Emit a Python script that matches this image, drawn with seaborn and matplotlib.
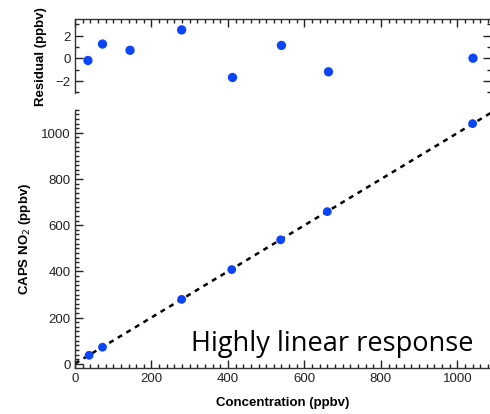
import numpy as np
import pandas as pd
import matplotlib
matplotlib.use("Agg")
import matplotlib.pyplot as plt
import seaborn as sns
from matplotlib.ticker import MultipleLocator

# Data
res_conc = [34, 72, 144, 279, 412, 540, 663, 1041]
residual = [-0.2, 1.25, 0.7, 2.5, -1.7, 1.13, -1.2, 0.0]
main_conc = [37, 72, 279, 410, 538, 660, 1040]
caps_no2 = [37, 72, 279, 408, 537, 659, 1040]
fit_x = [0, 1090]
fit_slope = 0.998
fit_intercept = 1.0

plt.rcParams['font.family'] = ['Liberation Sans', 'DejaVu Sans']

fig = plt.figure(figsize=(4.9, 4.145), dpi=100)
ax_r = fig.add_axes([0.153, 0.775, 0.849, 0.179])
ax_m = fig.add_axes([0.153, 0.111, 0.849, 0.623])

blue = "#0b45f5"
df_r = pd.DataFrame({"x": res_conc, "y": residual})
df_m = pd.DataFrame({"x": main_conc, "y": caps_no2})
df_fit = pd.DataFrame({"x": fit_x, "y": [fit_slope * v + fit_intercept for v in fit_x]})

sns.scatterplot(data=df_r, x="x", y="y", ax=ax_r, color=blue, s=45, edgecolor="none", zorder=3)
sns.lineplot(data=df_fit, x="x", y="y", ax=ax_m, color="black", lw=1.8,
             linestyle=(0, (2, 2)), zorder=2)
sns.scatterplot(data=df_m, x="x", y="y", ax=ax_m, color=blue, s=40, edgecolor="none", zorder=3)

tc = "#222222"
tw = 1.0
for ax in (ax_r, ax_m):
    ax.set_xlim(0, 1088)
    ax.xaxis.set_major_locator(MultipleLocator(200))
    ax.xaxis.set_minor_locator(MultipleLocator(20))
    for sp in ax.spines.values():
        sp.set_color("#333333")
        sp.set_linewidth(1.0)

# residual axes
ax_r.set_ylim(-3.05, 3.5)
ax_r.yaxis.set_major_locator(MultipleLocator(2))
ax_r.yaxis.set_minor_locator(MultipleLocator(1))
ax_r.spines["bottom"].set_visible(False)
ax_r.tick_params(axis="x", which="major", direction="in", length=6, width=tw, color=tc,
                 bottom=False, top=True, labelbottom=False, labeltop=False)
ax_r.tick_params(axis="x", which="minor", direction="in", length=3, width=tw, color=tc,
                 bottom=False, top=True)
ax_r.tick_params(axis="y", which="major", direction="in", length=6, width=tw, color=tc,
                 left=True, right=True, labelsize=9.5, labelcolor="#222222", pad=3)
ax_r.tick_params(axis="y", which="minor", direction="in", length=3, width=tw, color=tc,
                 left=True, right=True)
ax_r.set_xlabel("")
ax_r.set_ylabel("Residual (ppbv)", fontsize=9.5, fontweight="bold", labelpad=6)

# main axes
ax_m.set_ylim(-18, 1100)
ax_m.yaxis.set_major_locator(MultipleLocator(200))
ax_m.yaxis.set_minor_locator(MultipleLocator(20))
ax_m.spines["top"].set_visible(False)
ax_m.spines["right"].set_visible(False)
ax_m.tick_params(axis="both", which="major", direction="in", length=6, width=tw, color=tc,
                 bottom=True, left=True, top=False, right=False,
                 labelsize=9.5, labelcolor="#222222", pad=3)
ax_m.tick_params(axis="both", which="minor", direction="in", length=3, width=tw, color=tc,
                 bottom=True, left=True, top=False, right=False)
ax_m.set_xlabel("Concentration (ppbv)", fontsize=9.5, fontweight="bold", labelpad=9)
ax_m.set_ylabel("CAPS NO$_2$ (ppbv)", fontsize=9.5, fontweight="bold", labelpad=6)

ax_m.text(0.959, 0.066, "Highly linear response", transform=ax_m.transAxes,
          ha="right", va="baseline", fontsize=19.5, family=["Open Sans", "DejaVu Sans"],
          color="black")

fig.savefig("out.png", dpi=100)
